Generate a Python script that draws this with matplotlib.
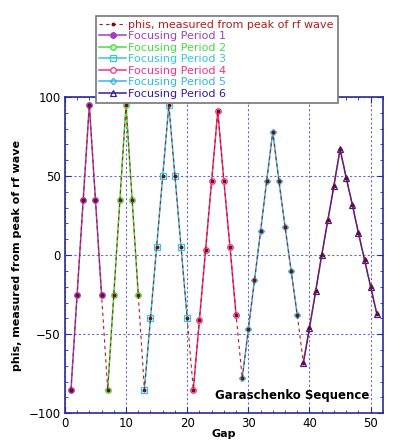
import matplotlib.pyplot as plt
from matplotlib.ticker import MultipleLocator

# ============================================================
# DATA
# ============================================================

gap_p1 = [1, 2, 3, 4, 5, 6]
phi_p1 = [-85, -25, 35, 95, 35, -25]

gap_p2 = [7, 8, 9, 10, 11, 12]
phi_p2 = [-85, -25, 35, 95, 35, -25]

gap_p3 = [13, 14, 15, 16, 17, 18, 19, 20]
phi_p3 = [-85, -40, 5, 50, 95, 50, 5, -40]

gap_p4 = [21, 22, 23, 24, 25, 26, 27, 28]
phi_p4 = [-85, -41, 3, 47, 91, 47, 5, -38]

gap_p5 = [29, 30, 31, 32, 33, 34, 35, 36, 37, 38]
phi_p5 = [-78, -47, -16, 15, 47, 78, 47, 18, -10, -38]

gap_p6 = [39, 40, 41, 42, 43, 44, 45, 46, 47, 48, 49, 50, 51]
phi_p6 = [-68, -46, -23, 0, 22, 44, 67, 49, 32, 14, -3, -20, -37]

periods = [
    (gap_p1, phi_p1, "Focusing Period 1", "#a040c0", "o", "#a040c0"),
    (gap_p2, phi_p2, "Focusing Period 2", "#44dd44", "o", "#c8f5c8"),
    (gap_p3, phi_p3, "Focusing Period 3", "#33c8dd", "s", "none"),
    (gap_p4, phi_p4, "Focusing Period 4", "#ee3388", "o", "white"),
    (gap_p5, phi_p5, "Focusing Period 5", "#33b8dd", "D", "none"),
    (gap_p6, phi_p6, "Focusing Period 6", "#3a1aa0", "^", "none"),
]

phis_gap = gap_p1 + gap_p2 + gap_p3 + gap_p4 + gap_p5 + gap_p6
phis_val = phi_p1 + phi_p2 + phi_p3 + phi_p4 + phi_p5 + phi_p6

# ============================================================
# PLOT
# ============================================================

fig = plt.figure(figsize=(3.98, 4.41), dpi=100)
ax = fig.add_axes([0.163, 0.063, 0.799, 0.717])

axis_col = "#2a2a9a"

h_phis, = ax.plot(phis_gap, phis_val, color="#b01c1c", ls=(0, (3, 3)), lw=0.8,
                  marker="o", ms=1.8, mfc="#701010", mec="#701010", zorder=4,
                  label="phis, measured from peak of rf wave")

handles = [h_phis]
for g, p, lab, col, mk, fc in periods:
    h, = ax.plot(g, p, color=col, lw=1.1, marker=mk, ms=4 if mk != "D" else 3.2,
                 mfc=fc, mec=col, mew=0.9, label=lab, zorder=3)
    handles.append(h)

ax.text(37.1, -88.5, "Garaschenko Sequence", fontsize=8.5, fontweight="bold",
        ha="center", va="center")

ax.set_xlim(0, 52)
ax.set_ylim(-100, 100)
ax.xaxis.set_major_locator(MultipleLocator(10))
ax.xaxis.set_minor_locator(MultipleLocator(2))
ax.yaxis.set_major_locator(MultipleLocator(50))
ax.yaxis.set_minor_locator(MultipleLocator(10))
ax.tick_params(which="both", direction="in", top=True, right=True,
               color=axis_col, labelsize=8.5)
ax.tick_params(which="major", length=4, pad=3)
ax.tick_params(which="minor", length=2)
for s in ax.spines.values():
    s.set_color(axis_col)
    s.set_linewidth(1.2)

ax.grid(True, which="major", color="#6a6ad0", ls=(0, (2, 2)), lw=0.8)

ax.set_xlabel("Gap", fontsize=8, fontweight="bold", labelpad=-1)
ax.set_ylabel("phis, measured from peak of rf wave", fontsize=8, fontweight="bold",
              labelpad=5)

leg = fig.legend(handles=handles, loc="upper left", bbox_to_anchor=(0.226, 0.977),
                 fontsize=8, labelspacing=0.14, handlelength=2.4, handletextpad=0.2,
                 borderpad=0.35, fancybox=False, framealpha=1, edgecolor="#777777")
leg.get_frame().set_linewidth(1.2)
leg.set_zorder(10)
for txt, h in zip(leg.get_texts(), handles):
    txt.set_color(h.get_color())

fig.savefig("out.png", dpi=100)
